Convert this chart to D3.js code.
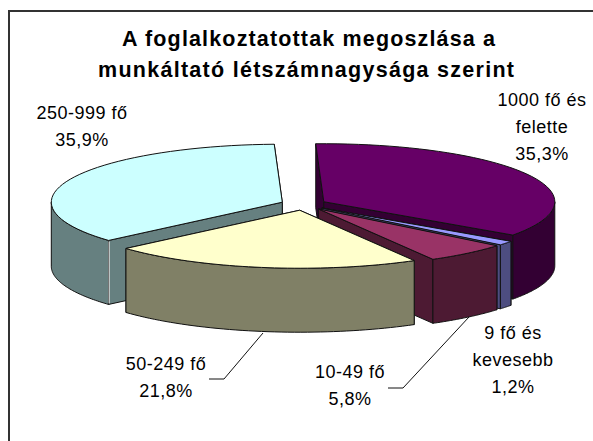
<!DOCTYPE html>
<html><head><meta charset="utf-8">
<script src="https://cdn.jsdelivr.net/npm/d3@7"></script>
<style>html,body{margin:0;padding:0;background:#fff}svg{display:block}</style>
</head><body><svg id="c" width="593" height="441"></svg>
<script>
const categories = ["1000 fő és felette","9 fő és kevesebb","10-49 fő","50-249 fő","250-999 fő"];
const values = [35.3,1.2,5.8,21.8,35.9];
const valueLabels = ["35,3%","1,2%","5,8%","21,8%","35,9%"];
const titleLines = ["A foglalkoztatottak megoszlása a","munkáltató létszámnagysága szerint"];
const topColors = ["#660066","#9999ff","#993366","#ffffcc","#ccffff"];
const sideColors = ["#330033","#4d4d80","#4d1a33","#808066","#668080"];
const labelLines = [["1000 fő és","felette"],["9 fő és","kevesebb"],["10-49 fő"],["50-249 fő"],["250-999 fő"]];
const labelX = [542,513,350,166,82];
const labelY = [106,339,378,370,119];
const leaders = [null,null,[[469,317],[403,388],[388,388]],[[263,333],[224,379],[209,379]],null];

const svg = d3.select("#c");
const cx=303.5, cy=204.5, a=231, b=58, depth=64, explode=0.1;
const start=-2*Math.PI/180;
const pie=d3.pie().sort(null).startAngle(start).endAngle(start+2*Math.PI);
const arcs=pie(values);
const line=d3.line();

svg.append("path").attr("d",line([[9,441],[9,11],[593,11]])).attr("fill","none").attr("stroke","#333").attr("stroke-width",2);

arcs.forEach(d=>{d.mid=(d.startAngle+d.endAngle)/2;
  d.ox=cx+explode*a*Math.sin(d.mid); d.oy=cy-explode*b*Math.cos(d.mid);
  d.pt=t=>[d.ox+a*Math.sin(t), d.oy-b*Math.cos(t)];});

function rim(d,t0,t1){return d3.range(0,49).map(i=>d.pt(t0+(t1-t0)*i/48));}
const down=p=>[p[0],p[1]+depth];
const stroke="#111";
function poly(g,pts,fill){g.append("path").attr("d",line(pts)+"Z").attr("fill",fill).attr("stroke",stroke).attr("stroke-width",1).attr("stroke-linejoin","round");}

const order=[4,0,1,2,3];
order.forEach(i=>{
  const d=arcs[i], g=svg.append("g"), o=[d.ox,d.oy];
  const s=d.pt(d.startAngle), e=d.pt(d.endAngle);
  // radial walls, the one further back first
  [s,e].sort((p,q)=>p[1]-q[1]).forEach(p=>poly(g,[o,p,down(p),down(o)],sideColors[i]));
  // outer wall (front-facing part only)
  const lo=Math.max(d.startAngle,Math.PI/2), hi=Math.min(d.endAngle,3*Math.PI/2);
  if(hi>lo){const r=rim(d,lo,hi);poly(g,r.concat(r.slice().reverse().map(down)),sideColors[i]);}
  // top face
  poly(g,[o].concat(rim(d,d.startAngle,d.endAngle)),topColors[i]);
  if(i===4){g.append("line").attr("x1",s[0]+0.5).attr("x2",s[0]+0.5).attr("y1",s[1]+1).attr("y2",s[1]+depth-1).attr("stroke","#fff");}
});

const font="'Liberation Sans',Arial,sans-serif";
const titleX=[308.5,306], titleY=[46,77], titleW=[373,416];
titleLines.forEach((t,i)=>svg.append("text").attr("x",titleX[i]).attr("y",titleY[i]).attr("text-anchor","middle")
  .attr("font-family",font).attr("font-weight","bold").attr("font-size",21.5)
  .attr("textLength",titleW[i]).attr("lengthAdjust","spacing").attr("fill","#000").text(t));

categories.forEach((c,i)=>{
  const ls=labelLines[i].concat([valueLabels[i]]);
  ls.forEach((t,j)=>svg.append("text").attr("x",labelX[i]).attr("y",labelY[i]+j*27).attr("text-anchor","middle")
    .attr("font-family",font).attr("font-size",18).attr("letter-spacing",0.5).attr("fill","#000").text(t));
  if(leaders[i]) svg.append("path").attr("d",line(leaders[i])).attr("fill","none").attr("stroke","#111").attr("stroke-width",1);
});
</script></body></html>
